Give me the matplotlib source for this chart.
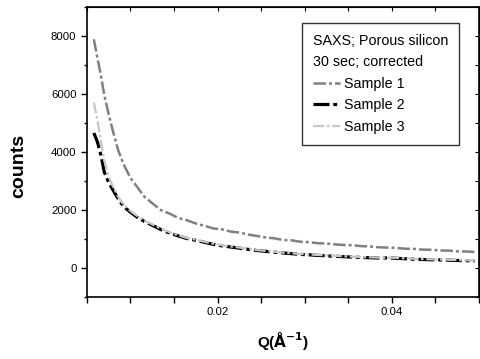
import matplotlib
matplotlib.use("Agg")
import matplotlib.pyplot as plt
from matplotlib.ticker import MultipleLocator, FixedFormatter, FixedLocator

plt.rcParams['font.family'] = ['Liberation Sans', 'DejaVu Sans']

# scattering vector Q (1/A)
q = [0.0058, 0.0062, 0.0066, 0.0070, 0.0075, 0.0080, 0.0086, 0.0092, 0.0100,
     0.0108, 0.0116, 0.0125, 0.0135, 0.0145, 0.0155, 0.0165, 0.0175, 0.0185,
     0.0195, 0.0205, 0.0215, 0.0225, 0.0235, 0.0245, 0.0255, 0.0265, 0.0275,
     0.0285, 0.0295, 0.0305, 0.0315, 0.0325, 0.0335, 0.0345, 0.0355, 0.0365,
     0.0375, 0.0385, 0.0395, 0.0405, 0.0415, 0.0425, 0.0435, 0.0445, 0.0455,
     0.0465, 0.0475, 0.0485, 0.0495]

sample1 = [7880, 7250, 6650, 5950, 5300, 4700, 4050, 3580, 3100,
           2780, 2450, 2230, 1990, 1870, 1720, 1640, 1530, 1450,
           1360, 1330, 1250, 1220, 1150, 1100, 1050, 1020, 960,
           950, 900, 890, 850, 840, 810, 790, 780, 750,
           740, 710, 700, 690, 660, 655, 630, 625, 600,
           595, 570, 565, 550]

sample2 = [4650, 4350, 3900, 3300, 2950, 2680, 2380, 2120, 1920,
           1740, 1600, 1470, 1320, 1200, 1100, 1010, 950, 880,
           810, 760, 720, 680, 640, 600, 570, 540, 515,
           490, 465, 450, 430, 415, 400, 385, 370, 360,
           350, 340, 345, 330, 315, 300, 290, 280, 275,
           265, 255, 250, 240]

sample3 = [5700, 5100, 4400, 3700, 3150, 2800, 2450, 2180, 1960,
           1780, 1630, 1500, 1350, 1230, 1120, 1030, 970, 900,
           830, 780, 740, 700, 655, 615, 585, 555, 525,
           505, 480, 465, 445, 430, 415, 400, 385, 375,
           365, 355, 355, 345, 330, 315, 305, 295, 290,
           280, 270, 265, 255]

labels = ['Sample 1', 'Sample 2', 'Sample 3']
colors = ['0.5', 'black', '0.78']
widths = [1.8, 2.3, 1.6]

fig = plt.figure(figsize=(4.8, 3.59), dpi=100)
ax = fig.add_axes([0.181, 0.173, 0.817, 0.808])

dashdot = (0, (5, 1.2, 1.2, 1.2))
for ys, lab, c, w in zip([sample1, sample2, sample3], labels, colors, widths):
    ax.plot(q, ys, color=c, lw=w, ls=dashdot, label=lab)

ax.set_xlim(0.005, 0.05)
ax.set_ylim(-1000, 9000)

ax.xaxis.set_major_locator(FixedLocator([0.02, 0.04]))
ax.xaxis.set_major_formatter(FixedFormatter(['0.02', '0.04']))
ax.xaxis.set_minor_locator(MultipleLocator(0.005))
ax.yaxis.set_minor_locator(MultipleLocator(1000))
ax.set_yticks([0, 2000, 4000, 6000, 8000])

ax.tick_params(axis='both', which='major', labelsize=8.2, width=1, length=4,
               direction='out')
ax.tick_params(axis='x', which='minor', width=1, length=4, direction='out')
ax.tick_params(axis='y', which='minor', width=1, length=2.5, direction='out')

sec_x = ax.secondary_xaxis('top')
sec_x.xaxis.set_major_locator(MultipleLocator(0.005))
sec_x.tick_params(direction='in', length=3, labeltop=False)
sec_y = ax.secondary_yaxis('right')
sec_y.yaxis.set_major_locator(MultipleLocator(1000))
sec_y.tick_params(direction='in', length=3, labelright=False)

for sp in ax.spines.values():
    sp.set_linewidth(1.2)

ax.set_ylabel('counts', fontsize=14, fontweight='bold')
ax.yaxis.set_label_coords(-0.152, 0.45)
ax.set_xlabel(r'Q($\mathbf{\AA^{-1}}$)', fontsize=11, fontweight='bold', labelpad=9)

leg = ax.legend(title='SAXS; Porous silicon\n30 sec; corrected',
                alignment='left', loc='upper right',
                bbox_to_anchor=(0.949, 0.945), fontsize=10.3, title_fontsize=10.3,
                frameon=True, fancybox=False, edgecolor='black',
                handlelength=1.9, handletextpad=0.25, labelspacing=0.55,
                borderpad=0.75, borderaxespad=0)
leg.get_frame().set_linewidth(1.0)
leg.get_title().set_linespacing(1.65)

fig.savefig('out.png', dpi=100, facecolor='white')
